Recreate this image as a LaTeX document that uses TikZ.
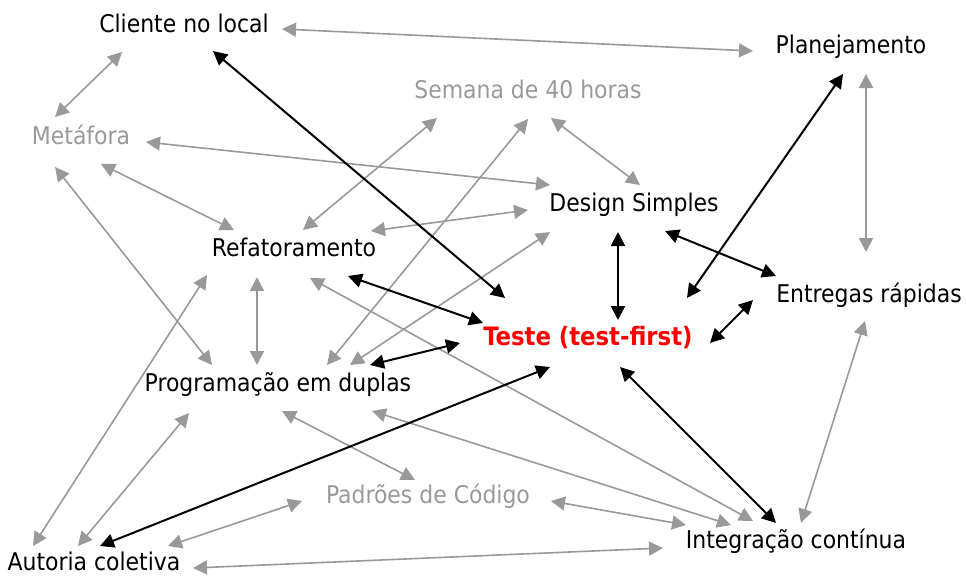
\documentclass[tikz,border=0pt]{standalone}
\usepackage{fontspec}
\setmainfont{DejaVu Sans Condensed}
\usepackage{xcolor}
\definecolor{xpgray}{HTML}{999999}
\usetikzlibrary{arrows.meta}

\begin{document}
\begin{tikzpicture}[x=0.75pt, y=-0.75pt,
		every node/.style={font=\fontsize{18.3}{21}\selectfont, anchor=base, inner sep=0pt},
		fraca/.style={text=xpgray},
		elo/.style={line width=1.2pt, draw=xpgray, <->, >={Triangle[length=10.5pt,width=10.5pt]}},
		forte/.style={line width=1.5pt, draw=black, <->, >={Triangle[length=10.5pt,width=10.5pt]}}]
		\useasboundingbox (0,0) rectangle (966,576);
		% praticas
		\node (cli) at (184,32) {Cliente no local};
		\node (pla) at (851,53) {Planejamento};
		\node [fraca] (sem) at (528,98) {Semana de 40 horas};
		\node [fraca] (met) at (81,144) {Metáfora};
		\node (des) at (634,211) {Design Simples};
		\node (ref) at (294,256) {Refatoramento};
		\node (ent) at (869,302) {Entregas rápidas};
		\node [text=red, font=\fontsize{19}{22}\selectfont\bfseries] (tes) at (588,345) {Teste (test-first)};
		\node (pro) at (278,391) {Programação em duplas};
		\node [fraca] (pad) at (428,503) {Padrões de Código};
		\node (int) at (796,548) {Integração contínua};
		\node (aut) at (94,570) {Autoria coletiva};
		% relacoes fracas
		\draw [elo] ([shift={(98,-3)}]cli.base) -- ([shift={(-98,-2)}]pla.base);
		\draw [elo] ([shift={(-62,20)}]cli.base) -- ([shift={(-26,-27)}]met.base);
		\draw [elo] ([shift={(65,-2)}]met.base) -- ([shift={(-84,-26)}]des.base);
		\draw [elo] ([shift={(20,20)}]met.base) -- ([shift={(-60,-26)}]ref.base);
		\draw [elo] ([shift={(-26,23)}]met.base) -- ([shift={(-66,-26)}]pro.base);
		\draw [elo] ([shift={(-91,20)}]sem.base) -- ([shift={(9,-26)}]ref.base);
		\draw [elo] ([shift={(0,21)}]sem.base) -- ([shift={(49,-26)}]pro.base);
		\draw [elo] ([shift={(23,20)}]sem.base) -- ([shift={(6,-26)}]des.base);
		\draw [elo] ([shift={(77,-25)}]ref.base) -- ([shift={(-106,-1)}]des.base);
		\draw [elo] ([shift={(-84,21)}]des.base) -- ([shift={(72,-26)}]pro.base);
		\draw [elo] ([shift={(-37,21)}]ref.base) -- ([shift={(-21,-26)}]pro.base);
		\draw [elo] ([shift={(-87,19)}]ref.base) -- ([shift={(-61,-24)}]aut.base);
		\draw [elo] ([shift={(16,22)}]ref.base) -- ([shift={(-43,-27)}]int.base);
		\draw [elo] ([shift={(15,21)}]pla.base) -- ([shift={(-3,-50)}]ent.base);
		\draw [elo] ([shift={(-4,19)}]ent.base) -- ([shift={(5,-25)}]int.base);
		\draw [elo] ([shift={(-89,22)}]pro.base) -- ([shift={(-16,-24)}]aut.base);
		\draw [elo] ([shift={(4,20)}]pro.base) -- ([shift={(-13,-23)}]pad.base);
		\draw [elo] ([shift={(94,20)}]pro.base) -- ([shift={(-65,-23)}]int.base);
		\draw [elo] ([shift={(-126,-2)}]pad.base) -- ([shift={(74,-24)}]aut.base);
		\draw [elo] ([shift={(123,-2)}]pad.base) -- ([shift={(-110,-23)}]int.base);
		\draw [elo] ([shift={(99,-2)}]aut.base) -- ([shift={(-133,0)}]int.base);
		% relacoes do teste
		\draw [forte] ([shift={(29,19)}]cli.base) -- ([shift={(-83,-47)}]tes.base);
		\draw [forte] ([shift={(54,20)}]ref.base) -- ([shift={(-105,-22)}]tes.base);
		\draw [forte] ([shift={(92,-26)}]pro.base) -- ([shift={(-128,-2)}]tes.base);
		\draw [forte] ([shift={(-16,21)}]des.base) -- ([shift={(30,-25)}]tes.base);
		\draw [forte] ([shift={(31,20)}]des.base) -- ([shift={(-93,-26)}]ent.base);
		\draw [forte] ([shift={(-8,21)}]pla.base) -- ([shift={(99,-47)}]tes.base);
		\draw [forte] ([shift={(122,-2)}]tes.base) -- ([shift={(-116,-2)}]ent.base);
		\draw [forte] ([shift={(-38,22)}]tes.base) -- ([shift={(6,-24)}]aut.base);
		\draw [forte] ([shift={(32,22)}]tes.base) -- ([shift={(-20,-25)}]int.base);
\end{tikzpicture}
\end{document}
